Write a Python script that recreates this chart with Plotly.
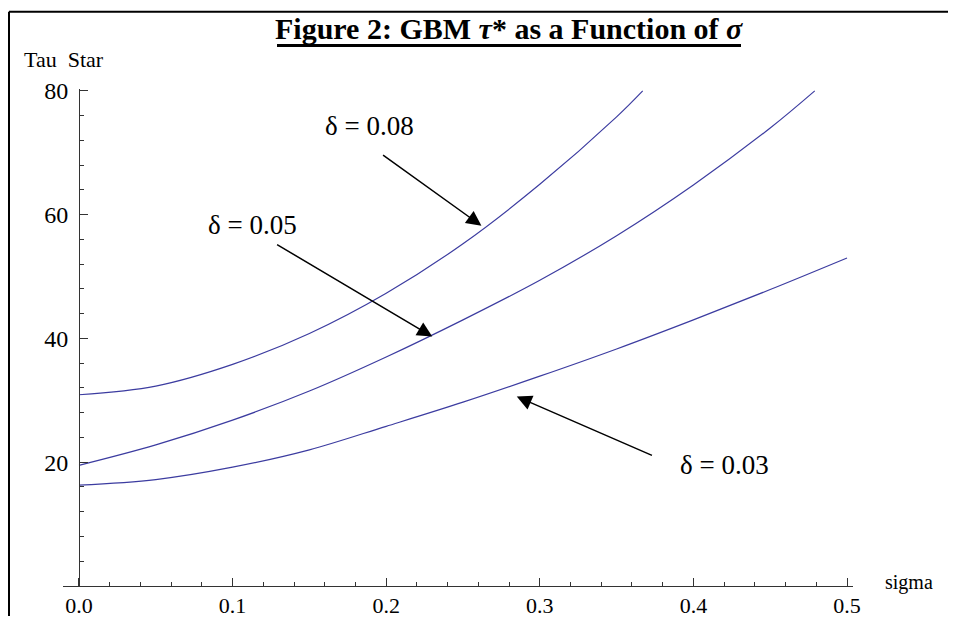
import plotly.graph_objects as go

# ---------------- data ----------------
sigma_d008 = [0.0, 0.05, 0.10, 0.15, 0.20, 0.25, 0.30, 0.35, 0.367]
tau_d008 = [30.9, 32.3, 35.8, 40.8, 47.3, 55.3, 64.9, 75.8, 80.0]

sigma_d005 = [0.0, 0.05, 0.10, 0.15, 0.20, 0.25, 0.30, 0.35, 0.40, 0.45, 0.479]
tau_d005 = [19.5, 22.8, 26.8, 31.5, 37.0, 43.0, 49.4, 56.6, 64.8, 74.0, 80.0]

sigma_d003 = [0.0, 0.05, 0.10, 0.15, 0.20, 0.25, 0.30, 0.35, 0.40, 0.45, 0.50]
tau_d003 = [16.3, 17.2, 19.2, 22.0, 25.8, 29.7, 33.9, 38.3, 43.0, 47.9, 53.0]

x_tick_vals = [0.0, 0.1, 0.2, 0.3, 0.4, 0.5]
x_tick_text = ["0.0", "0.1", "0.2", "0.3", "0.4", "0.5"]
y_tick_vals = [20, 40, 60, 80]
y_tick_text = ["20", "40", "60", "80"]

series_labels = ["δ = 0.08", "δ = 0.05", "δ = 0.03"]
# label centre, arrow tail, arrow tip  (sigma, tau)
label_pos = [(0.189, 74.3), (0.113, 58.3), (0.420, 19.5)]
arrow_tail = [(0.197, 69.8), (0.128, 55.3), (0.374, 21.0)]
arrow_tip = [(0.262, 58.2), (0.230, 40.3), (0.285, 30.6)]

title_text = "<b>Figure 2: GBM <i>τ</i>* as a Function of <i>σ</i></b>"

# ---------------- layout geometry (figure pixels; page has an 8px body margin) ----------------
W, H = 948, 622
L, R, T, B = 55, 103, 81, 26
PW, PH = W - L - R, H - T - B
FONT = "Liberation Serif"
LINE = "#3c3ca0"
AX = "#333333"


def px(x, y):
    return (x - L) / PW, (H - B - y) / PH


fig = go.Figure()
for s, t in [(sigma_d008, tau_d008), (sigma_d005, tau_d005), (sigma_d003, tau_d003)]:
    fig.add_trace(go.Scatter(x=s, y=t, mode="lines", line=dict(color=LINE, width=1.2, shape="spline"),
                             showlegend=False, hoverinfo="skip"))

y_axis_paper = px(71, 0)[0]

fig.update_layout(
    width=W, height=H, margin=dict(l=L, r=R, t=T, b=B),
    paper_bgcolor="white", plot_bgcolor="white",
    font=dict(family=FONT, color="black"),
    xaxis=dict(range=[-0.0104, 0.5039], showline=True, linecolor=AX, linewidth=1,
               ticks="inside", ticklen=8, tickcolor=AX, tickvals=x_tick_vals, ticktext=x_tick_text,
               tickfont=dict(size=22, family=FONT), showgrid=False, zeroline=False,
               minor=dict(tickvals=[round(0.02 * i, 2) for i in range(26) if i % 5], ticks="inside",
                          ticklen=4, tickcolor=AX)),
    yaxis=dict(range=[0, 80.3], anchor="free", position=y_axis_paper, showline=True, linecolor=AX,
               linewidth=1, ticks="inside", ticklen=8, tickcolor=AX, tickvals=y_tick_vals,
               ticktext=y_tick_text, tickfont=dict(size=24, family=FONT), showgrid=False, zeroline=False,
               ticklabelstandoff=6,
               minor=dict(tickvals=[4 * i for i in range(1, 20) if i % 5], ticks="inside", ticklen=4,
                          tickcolor=AX)),
)

# title with a heavy underline
tx, ty = px(501, 18)
fig.add_annotation(text=title_text, x=tx, y=ty, xref="paper", yref="paper", showarrow=False,
                   font=dict(size=30, family=FONT, color="black"), xanchor="center", yanchor="middle")
u0x, u0y = px(269, 36)
u1x, u1y = px(733, 36)
fig.add_shape(type="line", xref="paper", yref="paper", x0=u0x, y0=u0y, x1=u1x, y1=u1y,
              line=dict(color="black", width=3))

# axis labels
ax_, ay_ = px(56, 50)
fig.add_annotation(text="Tau  Star", x=ax_, y=ay_, xref="paper", yref="paper", showarrow=False,
                   font=dict(size=22, family=FONT), xanchor="center", yanchor="middle")
sx, sy = px(901, 592)
fig.add_annotation(text="sigma", x=sx, y=sy, xref="paper", yref="paper", showarrow=False,
                   font=dict(size=20, family=FONT), xanchor="center", yanchor="middle")

# series labels + arrows
for lab, (lx, ly), (ax0, ay0), (tx0, ty0) in zip(series_labels, label_pos, arrow_tail, arrow_tip):
    fig.add_annotation(text=lab, x=lx, y=ly, xref="x", yref="y", showarrow=False,
                       font=dict(size=27, family=FONT), xanchor="center", yanchor="middle")
    fig.add_annotation(text="", x=tx0, y=ty0, xref="x", yref="y", ax=ax0, ay=ay0, axref="x", ayref="y",
                       showarrow=True, arrowhead=2, arrowsize=2.0, arrowwidth=1.5, arrowcolor="black",
                       standoff=0, startstandoff=0)

# page border (left, top, right)
for (x0, y0, x1, y1) in [(1, 1, 1, H + 5), (1, 1, 944, 1), (944, 1, 944, H + 5)]:
    a0, b0 = px(x0, y0)
    a1, b1 = px(x1, y1)
    fig.add_shape(type="line", xref="paper", yref="paper", x0=a0, y0=b0, x1=a1, y1=b1,
                  line=dict(color="black", width=2))

fig.write_html("out.html")
